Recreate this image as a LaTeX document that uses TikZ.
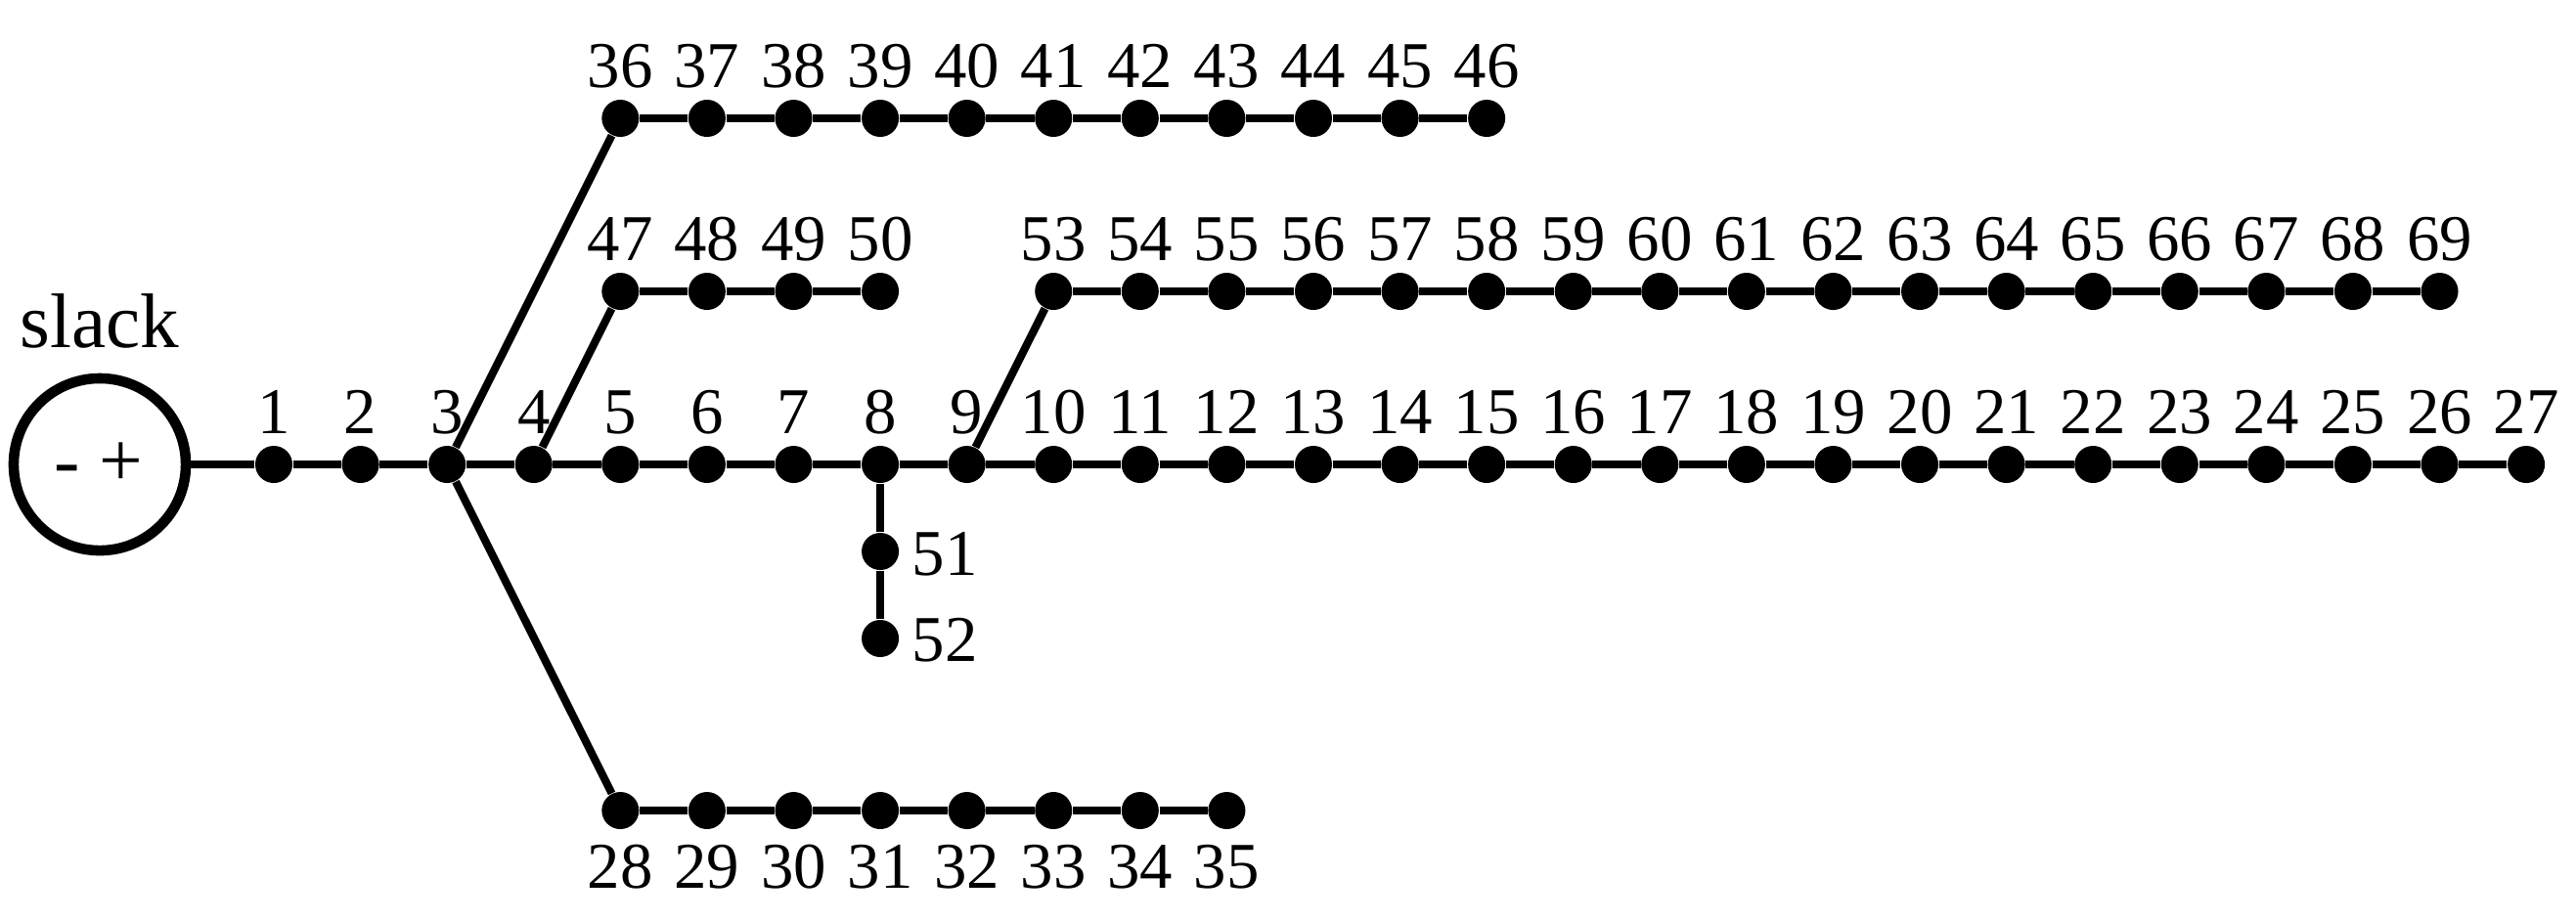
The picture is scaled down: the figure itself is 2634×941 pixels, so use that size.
\documentclass[tikz,border=0pt]{standalone}
\usepackage{fontspec}
\setmainfont{Liberation Serif}
\begin{document}
\begin{tikzpicture}[x=0.01cm,y=0.01cm,
  bus/.style={circle,fill=black,inner sep=0pt,minimum size=0.38cm},
  lbl/.style={font=\fontsize{19}{21}\selectfont,inner sep=0pt},
  big/.style={font=\fontsize{22.5}{25}\selectfont,inner sep=0pt},
  wire/.style={line width=2.3pt},
  src/.style={circle,draw,line width=3pt,minimum size=1.76cm,inner sep=0pt}]
\useasboundingbox (0,0) rectangle (2634,-941);
% source
\node[src] (slack) at (102,-475) {};
\node[big] (plusminus) at (101,-475) {-\ +};
\node[big,anchor=base] (slacklbl) at (102,-355) {slack};
% main feeder 1..27
\foreach \k in {1,...,27} {
  \pgfmathsetmacro\xx{280+(\k-1)*88.58}
  \node[bus] (n\k) at (\xx,-475) {};
  \node[lbl,anchor=base] (t\k) at (\xx,-443) {\k};
}
% lateral 28..35
\foreach \k in {28,...,35} {
  \pgfmathsetmacro\xx{280+(\k-24)*88.58}
  \node[bus] (n\k) at (\xx,-829) {};
  \node[lbl,anchor=base] (t\k) at (\xx,-908) {\k};
}
% lateral 36..46
\foreach \k in {36,...,46} {
  \pgfmathsetmacro\xx{280+(\k-32)*88.58}
  \node[bus] (n\k) at (\xx,-121) {};
  \node[lbl,anchor=base] (t\k) at (\xx,-89) {\k};
}
% lateral 47..50
\foreach \k in {47,...,50} {
  \pgfmathsetmacro\xx{280+(\k-43)*88.58}
  \node[bus] (n\k) at (\xx,-298) {};
  \node[lbl,anchor=base] (t\k) at (\xx,-266) {\k};
}
% lateral 53..69
\foreach \k in {53,...,69} {
  \pgfmathsetmacro\xx{280+(\k-44)*88.58}
  \node[bus] (n\k) at (\xx,-298) {};
  \node[lbl,anchor=base] (t\k) at (\xx,-266) {\k};
}
% lateral 51..52
\node[bus] (n51) at (900.06,-564) {};
\node[lbl,anchor=base west] (t51) at (932,-588) {51};
\node[bus] (n52) at (900.06,-653) {};
\node[lbl,anchor=base west] (t52) at (932,-676) {52};
% wires
\draw[wire] (slack.east) -- (n1);
\foreach \a [evaluate=\a as \b using int(\a+1)] in {1,...,26} \draw[wire] (n\a) -- (n\b);
\foreach \a [evaluate=\a as \b using int(\a+1)] in {28,...,34} \draw[wire] (n\a) -- (n\b);
\foreach \a [evaluate=\a as \b using int(\a+1)] in {36,...,45} \draw[wire] (n\a) -- (n\b);
\foreach \a [evaluate=\a as \b using int(\a+1)] in {47,...,49} \draw[wire] (n\a) -- (n\b);
\foreach \a [evaluate=\a as \b using int(\a+1)] in {53,...,68} \draw[wire] (n\a) -- (n\b);
\draw[wire] (n3) -- (n28);
\draw[wire] (n3) -- (n36);
\draw[wire] (n4) -- (n47);
\draw[wire] (n9) -- (n53);
\draw[wire] (n8) -- (n51) -- (n52);
\end{tikzpicture}
\end{document}
